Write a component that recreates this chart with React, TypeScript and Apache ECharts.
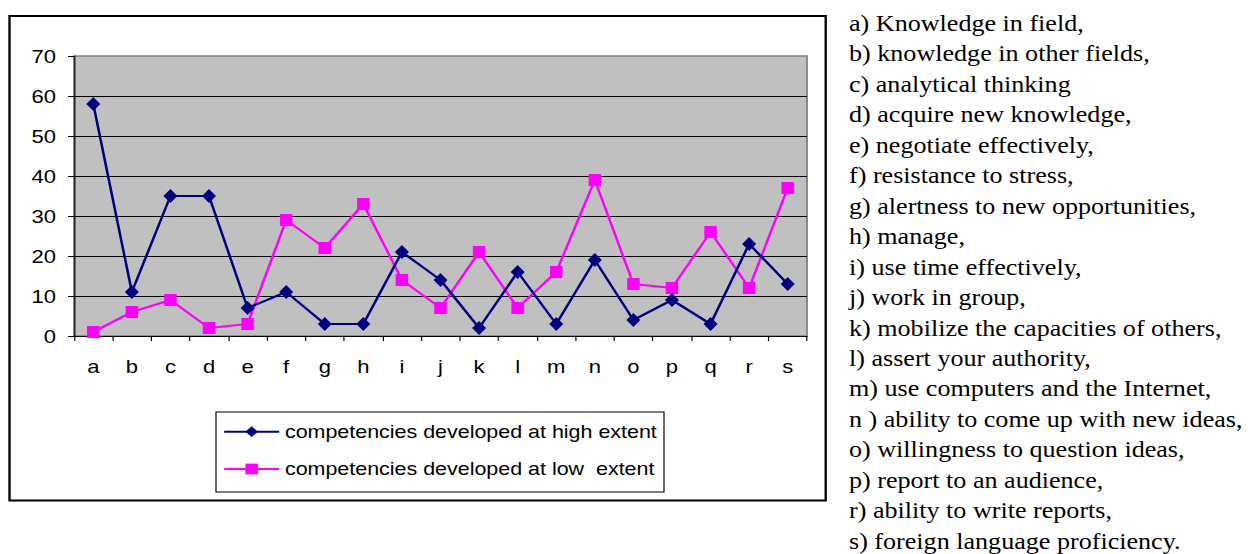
import React, { useEffect, useRef } from "react";
import * as echarts from "echarts";

// horizontal stretch of the reference picture
const S = 1.16;

const categories = ["a", "b", "c", "d", "e", "f", "g", "h", "i", "j", "k", "l", "m", "n", "o", "p", "q", "r", "s"];
const highExtent = [58, 11, 35, 35, 7, 11, 3, 3, 21, 14, 2, 16, 3, 19, 4, 9, 3, 23, 13];
const lowExtent = [1, 6, 9, 2, 3, 29, 22, 33, 14, 7, 21, 7, 16, 39, 13, 12, 26, 12, 37];
const seriesNames = ["competencies developed at high extent", "competencies developed at low  extent"];
const yMin = 0;
const yMax = 70;
const yInterval = 10;
const descriptions = [
  "a) Knowledge in field,",
  "b) knowledge in other fields,",
  "c) analytical thinking",
  "d) acquire new knowledge,",
  "e) negotiate effectively,",
  "f) resistance to stress,",
  "g) alertness to new opportunities,",
  "h) manage,",
  "i) use time effectively,",
  "j) work in group,",
  "k) mobilize the capacities of others,",
  "l) assert your authority,",
  "m) use computers and the Internet,",
  "n ) ability to come up with new ideas,",
  "o) willingness to question ideas,",
  "p) report to an audience,",
  "r) ability to write reports,",
  "s) foreign language proficiency.",
];

const sans = '"Liberation Sans", Arial, sans-serif';
const serif = '"Liberation Serif", "Times New Roman", serif';
const X = (v: number) => v / S;

export default function App() {
  const ref = useRef<HTMLDivElement>(null);

  useEffect(() => {
    document.body.style.overflow = "hidden";
    if (!ref.current) return;
    const chart = echarts.init(ref.current, null, { renderer: "svg" });

    const graphics: any[] = [
      {
        type: "rect",
        shape: { x: X(9.5), y: 16, width: X(825.7) - X(9.5), height: 484.5 },
        style: { fill: "none", stroke: "#000", lineWidth: 2 },
        silent: true,
      },
      {
        type: "rect",
        shape: { x: X(216), y: 412, width: X(664) - X(216), height: 80 },
        style: { fill: "none", stroke: "#000", lineWidth: 1 },
        silent: true,
      },
    ];
    descriptions.forEach((t, i) => {
      graphics.push({
        type: "text",
        x: X(849),
        y: 23 + i * 30.47,
        style: {
          text: t,
          fontSize: 22.5,
          fontFamily: serif,
          fill: "#000",
          verticalAlign: "middle",
          align: "left",
        },
        silent: true,
      });
    });

    chart.setOption({
      animation: false,
      backgroundColor: "#fff",
      grid: {
        left: X(74),
        top: 56,
        width: X(807) - X(74),
        height: 280,
        show: true,
        backgroundColor: "#C0C0C0",
        borderColor: "#808080",
        borderWidth: 1.5,
        containLabel: false,
      },
      xAxis: {
        type: "category",
        data: categories,
        boundaryGap: true,
        axisLine: { show: true, lineStyle: { color: "#000", width: 1 } },
        axisTick: { show: true, alignWithLabel: false, length: 5, lineStyle: { color: "#000" }, interval: 0 },
        axisLabel: { color: "#000", fontSize: 19, fontFamily: sans, margin: 21, interval: 0 },
        splitLine: { show: false },
      },
      yAxis: {
        type: "value",
        min: yMin,
        max: yMax,
        interval: yInterval,
        axisLine: { show: true, lineStyle: { color: "#000", width: 1 } },
        axisTick: { show: true, length: 5.2, lineStyle: { color: "#000" } },
        axisLabel: { color: "#000", fontSize: 19, fontFamily: sans, margin: 15.5 },
        splitLine: { show: true, showMaxLine: false, lineStyle: { color: "#000", width: 1 } },
      },
      legend: {
        orient: "vertical",
        left: X(223),
        top: 421.7,
        itemWidth: X(278) - X(223),
        itemHeight: 13.5,
        itemGap: 17.3,
        padding: 0,
        textStyle: { color: "#000", fontSize: 18.5, fontFamily: sans, lineHeight: 20 },
        data: seriesNames,
      },
      graphic: graphics,
      series: [
        {
          name: seriesNames[0],
          type: "line",
          data: highExtent,
          symbol: "diamond",
          symbolSize: [X(14), 14],
          lineStyle: { color: "#000080", width: 2.2 },
          itemStyle: { color: "#000080" },
          z: 3,
        },
        {
          name: seriesNames[1],
          type: "line",
          data: lowExtent,
          symbol: "rect",
          symbolSize: [X(12.5), 12],
          lineStyle: { color: "#FF00FF", width: 2.2 },
          itemStyle: { color: "#FF00FF" },
          z: 2,
        },
      ],
    });

    return () => {
      chart.dispose();
    };
  }, []);

  return (
    <div
      style={{
        position: "absolute",
        left: 0,
        top: 0,
        width: 1253 / S,
        height: 554,
        transform: `scaleX(${S})`,
        transformOrigin: "0 0",
      }}
    >
      <div ref={ref} style={{ width: "100%", height: "100%" }} />
    </div>
  );
}
